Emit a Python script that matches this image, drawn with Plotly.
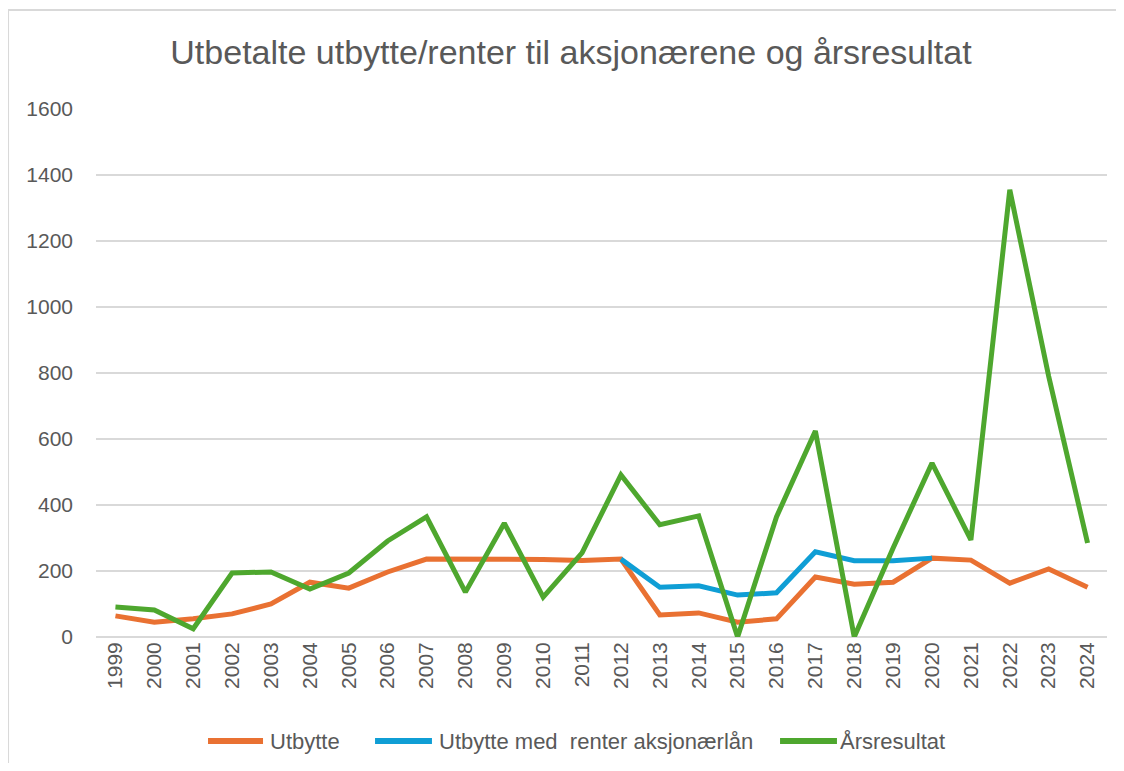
import plotly.graph_objects as go

years = [str(y) for y in range(1999, 2025)]
utbytte = [64, 45, 55, 70, 100, 166, 148, 197, 236, 236, 236, 235, 232, 236,
           67, 73, 45, 55, 182, 160, 166, 239, 233, 163, 206, 151]
utbytte_renter = [None]*13 + [236, 151, 155, 127, 134, 258, 231, 231, 239] + [None]*4
arsresultat = [91, 82, 25, 194, 197, 145, 194, 291, 364, 136, 345, 121, 255, 491,
               340, 367, 0, 364, 624, 0, 270, 527, 294, 1355, 790, 285]

names = ["Utbytte", "Utbytte med  renter aksjonærlån", "Årsresultat"]
colors = ["#E97132", "#0F9ED5", "#4EA72E"]
series = [utbytte, utbytte_renter, arsresultat]

fig = go.Figure()
for n, c, s in zip(names, colors, series):
    fig.add_trace(go.Scatter(x=years, y=s, name=n, mode="lines",
                             line=dict(color=c, width=5), connectgaps=False,
                             showlegend=False))

font = "Liberation Sans, Arial, sans-serif"
fig.update_layout(
    width=1108, height=755,
    margin=dict(l=88, r=9, t=101, b=126),
    paper_bgcolor="white", plot_bgcolor="white",
    title=dict(text="Utbetalte utbytte/renter til aksjonærene og årsresultat",
               x=0.5081, xanchor="center", y=0.9417, yanchor="middle",
               font=dict(family=font, size=34, color="#595959")),
    xaxis=dict(type="category", tickangle=-90, showgrid=False, showline=False,
               range=[-0.5, 25.5], ticks="",
               tickfont=dict(family=font, size=21, color="#595959")),
    yaxis=dict(range=[0, 1600], dtick=200, showgrid=True, gridcolor="#D9D9D9",
               gridwidth=1.5, zeroline=True, zerolinecolor="#D9D9D9", zerolinewidth=1.5,
               ticks="", ticklabelstandoff=22,
               tickfont=dict(family=font, size=21, color="#595959")),
    showlegend=False,
)

# manual legend (long line swatches as in the reference)
leg_y = -0.197
leg_x = [(0.1108, 0.1652, 0.1701), (0.2760, 0.3323, 0.3373), (0.6766, 0.7329, 0.7339)]
for (x0, x1, xt), n, c in zip(leg_x, names, colors):
    fig.add_shape(type="line", xref="paper", yref="paper", x0=x0, x1=x1,
                  y0=leg_y, y1=leg_y, line=dict(color=c, width=6))
    fig.add_annotation(xref="paper", yref="paper", x=xt, y=leg_y, text=n,
                       showarrow=False, xanchor="left", yanchor="middle",
                       font=dict(family=font, size=22, color="#595959"))

fig.add_shape(type="line", xref="paper", yref="paper", x0=-0.0870, x1=-0.0870,
              y0=1.1875, y1=-0.26, line=dict(color="#D9D9D9", width=2))
fig.add_shape(type="line", xref="paper", yref="paper", x0=-0.0870, x1=1.03,
              y0=1.1875, y1=1.1875, line=dict(color="#D9D9D9", width=2))
fig.write_html("out.html")
